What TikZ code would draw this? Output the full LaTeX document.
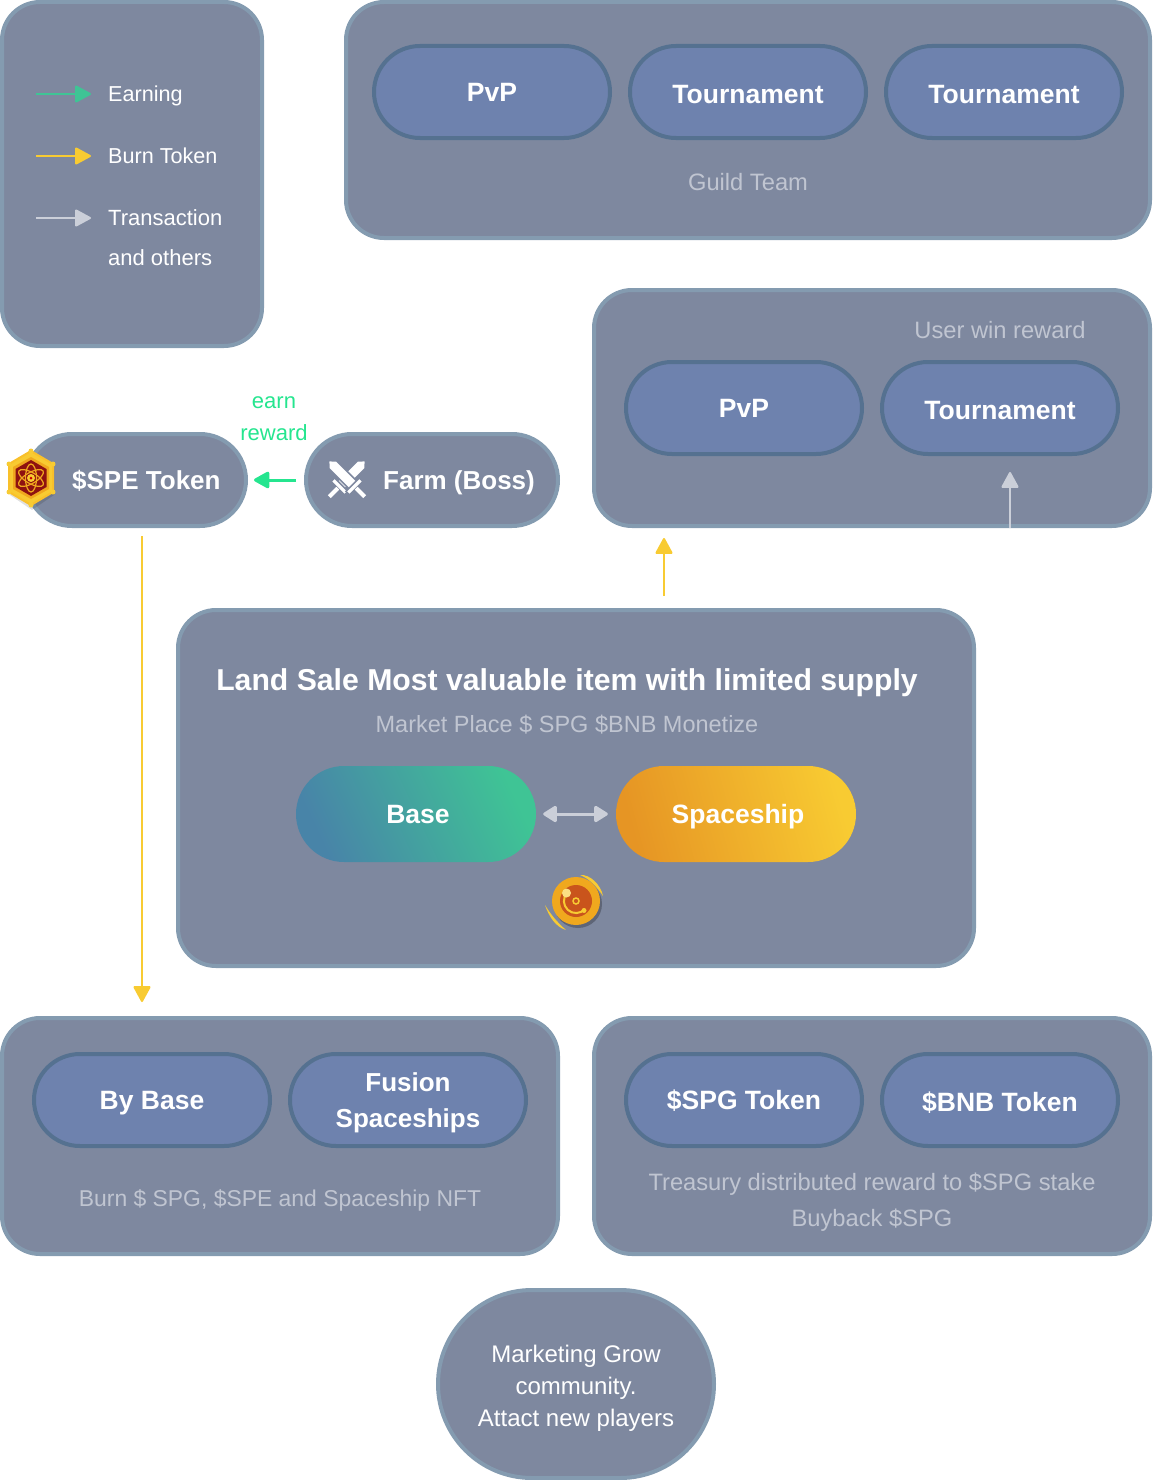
\documentclass[tikz,border=0pt]{standalone}
\usepackage{fontspec}
\setmainfont{Liberation Sans}
\usepackage{tikz}
\usetikzlibrary{arrows.meta,positioning}

\definecolor{panelfill}{HTML}{7E889F}
\definecolor{panelline}{HTML}{849BB0}
\definecolor{pillfill}{HTML}{6E82AE}
\definecolor{pillline}{HTML}{557190}
\definecolor{mutedtext}{HTML}{C0C5D1}
\definecolor{earncol}{HTML}{3FC495}
\definecolor{earnbright}{HTML}{25E58F}
\definecolor{burncol}{HTML}{F8CB32}
\definecolor{othercol}{HTML}{CBCFD9}
\definecolor{basecol}{HTML}{4884A8}
\definecolor{shipcol}{HTML}{E69524}
\definecolor{coinred}{HTML}{C9541C}
\definecolor{coingold}{HTML}{F0A81E}
\definecolor{hexred}{HTML}{8E1210}

\newcommand{\pxfont}[1]{\fontsize{#1}{#1}\selectfont}

\begin{document}
\begin{tikzpicture}[x=1pt, y=-1pt]
\tikzstyle{every node}=[inner sep=0pt, text=white]
\tikzstyle{panel}=[draw=panelline, fill=panelfill, line width=4pt, rectangle, rounded corners=38pt]
\tikzstyle{pill}=[draw=pillline, fill=pillfill, line width=4pt, rectangle, rounded corners=46pt,
    minimum width=236pt, minimum height=92pt, align=center, font=\pxfont{26.5}\bfseries,
    text height=19pt, text depth=0pt]
\tikzstyle{lowlabel}=[text height=22pt]
\tikzstyle{tokenpill}=[panel, rounded corners=46pt, minimum height=92pt]
\tikzstyle{tokentext}=[font=\pxfont{26}\bfseries, anchor=west, text height=18pt, text depth=0pt]
\tikzstyle{swappill}=[rectangle, rounded corners=48pt, minimum width=240pt, minimum height=96pt,
    font=\pxfont{26.5}\bfseries, text height=19pt, text depth=0pt]
\tikzstyle{muted}=[text=mutedtext, font=\pxfont{23.7}, align=center, text height=17pt, text depth=0pt]
\tikzstyle{keytext}=[anchor=west, font=\pxfont{21.6}, text height=15pt, text depth=0pt]
\tikzstyle{flow}=[line width=2pt, -{Triangle[length=17pt,width=18pt,round]}]

\useasboundingbox (0,0) rectangle (1152,1480);

% panels
\node[panel, minimum width=260pt, minimum height=344pt] (legend) at (132,174) {};
\node[panel, minimum width=804pt, minimum height=236pt] (guild) at (748,120) {};
\node[panel, minimum width=556pt, minimum height=236pt] (user) at (872,408) {};
\node[panel, minimum width=796pt, minimum height=356pt] (land) at (576,788) {};
\node[panel, minimum width=556pt, minimum height=236pt] (burn) at (280,1136) {};
\node[panel, minimum width=556pt, minimum height=236pt] (treasury) at (872,1136) {};
\node[panel, rounded corners=94pt, minimum width=276pt, minimum height=188pt] (market) at (576,1384) {};
\node[align=center, font=\pxfont{24}, text depth=0pt] (markettext) at (576,1386) {Marketing Grow\\[8pt]community.\\[8pt]Attact new players};

% legend
\coordinate (earnfrom) at (36,94);
\coordinate (burnfrom) at (36,156);
\coordinate (otherfrom) at (36,218);
\node[keytext] (earnkey) at (108,94) {Earning};
\node[keytext] (burnkey) at (108,156) {Burn Token};
\node[keytext, font=\pxfont{22}] (otherkey) at (108,218) {Transaction};
\node[keytext, font=\pxfont{22}] (otherkeyb) at (108,258) {and others};
\draw[flow, earncol] (earnfrom) -- (earnkey.west) [shorten >=17pt];
\draw[flow, burncol] (burnfrom) -- (burnkey.west) [shorten >=17pt];
\draw[flow, othercol] (otherfrom) -- (otherkey.west) [shorten >=17pt];

% guild team
\node[pill] (guildpvp) at (492,92) {PvP};
\node[pill, lowlabel] (guildtoura) at (748,92) {Tournament};
\node[pill, lowlabel] (guildtourb) at (1004,92) {Tournament};
\node[muted] (guildtext) at (748,182) {Guild Team};

% user reward
\node[muted] (usertext) at (1000,330) {User win reward};
\node[pill] (userpvp) at (744,408) {PvP};
\node[pill, lowlabel] (usertour) at (1000,408) {Tournament};

% tokens
\node[tokenpill, minimum width=220pt] (spe) at (136,480) {};
\node[tokentext] (spetext) at (72,480) {\$SPE Token};
\node[tokenpill, minimum width=252pt] (farm) at (432,480) {};
\node[tokentext] (farmtext) at (383,480) {Farm (Boss)};
\node[text=earnbright, font=\pxfont{22}, align=center] (earntext) at (274,419) {earn\\[10pt]reward};

% land sale
\node[font=\pxfont{30.2}\bfseries, text height=22pt, text depth=0pt] (landtitle) at (567,679) {Land Sale Most valuable item with limited supply};
\node[muted, font=\pxfont{23.5}] (landtext) at (567,724) {Market Place \$ SPG \$BNB Monetize};
\node[swappill, left color=basecol, right color=earncol, shading angle=115] (base) at (416,814) {\hspace*{4pt}Base};
\node[swappill, left color=shipcol, right color=burncol, shading angle=105] (ship) at (736,814) {\hspace*{4pt}Spaceship};

% burn panel
\node[pill] (bybase) at (152,1100) {By Base};
\node[pill, text height=, font=\pxfont{26}\bfseries] (fusion) at (408,1100) {Fusion\\[10pt]Spaceships};
\node[muted, font=\pxfont{22.9}] (burntext) at (280,1198) {Burn \$ SPG, \$SPE and Spaceship NFT};

% treasury panel
\node[pill] (spg) at (744,1100) {\$SPG Token};
\node[pill, lowlabel] (bnb) at (1000,1100) {\$BNB Token};
\node[muted, text height=] (treasurytext) at (872,1200) {Treasury distributed reward to \$SPG stake\\[12pt]Buyback \$SPG};

% connectors
\coordinate (speout) at (142,528);
\coordinate (landout) at (664,608);
\coordinate (userin) at (1010,528);
\draw[flow, earnbright, line width=3pt] (farm.west) -- (spe.east) [shorten <=8pt, shorten >=6pt];
\draw[flow, burncol] (speout) -- (speout |- burn.north) [shorten <=8pt, shorten >=14pt];
\draw[flow, burncol] (landout) -- (landout |- user.south) [shorten <=12pt, shorten >=10pt];
\draw[flow, othercol] (userin) -- (userin |- usertour.south) [shorten >=16pt];
\draw[othercol, line width=3pt, {Triangle[length=15pt,width=18pt,round]}-{Triangle[length=15pt,width=18pt,round]}]
    (base.east) -- (ship.west) [shorten <=7pt, shorten >=8pt];

% crossed swords
\begin{scope}[shift={(347,479)}]
\foreach \turn in {-135,-45} {
    \begin{scope}[rotate=\turn]
    \fill[white, draw=panelfill, line width=1.5pt] (-26,0) -- (-20,-5.5) -- (8,-5.5) -- (8,5.5) -- (-20,5.5) -- cycle;
    \fill[white, draw=panelfill, line width=1.5pt] (8,-9.5) rectangle (13,9.5);
    \fill[white] (13,-2) rectangle (25,2);
    \end{scope}
}
\end{scope}

% token badge
\begin{scope}[shift={(31,478)}]
\fill[black, opacity=.12] (1,-24) -- (23,-11) -- (23,17) -- (1,32) -- (-21,17) -- (-21,-11) -- cycle;
\fill[burncol, draw=burncol!85!orange, line width=2pt, line join=round] (0,-27) -- (22,-14) -- (22,14) -- (0,27) -- (-22,14) -- (-22,-14) -- cycle;
\foreach \spot in {(0,-27),(22,-14),(22,14),(0,27),(-22,14),(-22,-14)} {
    \fill[burncol] \spot circle (2.5pt);
}
\fill[coingold] (0,-21) -- (18,-11) -- (18,11) -- (0,21) -- (-18,11) -- (-18,-11) -- cycle;
\fill[hexred] (0,-18) -- (15.5,-9) -- (15.5,9) -- (0,18) -- (-15.5,9) -- (-15.5,-9) -- cycle;
\foreach \orbit in {30,90,150} {
    \draw[coingold, line width=1.2pt, rotate=\orbit] (0,0) ellipse (14pt and 5.5pt);
}
\fill[burncol] (0,0) circle (4pt);
\fill[red!80!black] (0,0) circle (1.5pt);
\end{scope}

% coin
\begin{scope}[shift={(576,901)}]
\fill[burncol] (-31,4) .. controls (-27,16) and (-20,26) .. (-10,29) .. controls (-18,22) and (-25,14) .. cycle;
\fill[burncol] (4,-26) .. controls (14,-27) and (25,-16) .. (27,-5) .. controls (21,-14) and (14,-22) .. cycle;
\fill[black, opacity=.25] (2,3) circle (24pt);
\fill[coingold] (0,0) circle (24pt);
\fill[coinred] (0,0) circle (16pt);
\draw[burncol, line width=2pt] (-9,-8) arc (138:318:12pt);
\draw[burncol, line width=1.5pt] (0,0) circle (3pt);
\fill[burncol!60!white] (-9.5,-8) circle (4.5pt);
\fill[burncol] (8,9.5) circle (2.5pt);
\end{scope}
\end{tikzpicture}
\end{document}
